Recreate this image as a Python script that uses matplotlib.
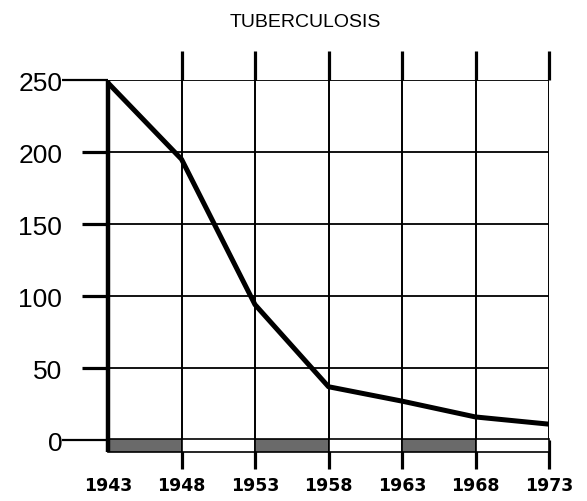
import matplotlib.pyplot as plt

# values (deaths per 100,000)
years = [1943, 1948, 1953, 1958, 1963, 1968, 1973]
rates = [248, 195, 94, 37, 27, 16, 11]
y_ticks = [0, 50, 100, 150, 200, 250]
title = "TUBERCULOSIS"

fig = plt.figure(figsize=(5.87, 5.02), dpi=100)
ax = fig.add_axes([0.184, 0.1215, 0.7513, 0.7171])
ax.set_xlim(years[0], years[-1])
ax.set_ylim(0, 250)
for s in ax.spines.values():
    s.set_visible(False)

# grid
ax.hlines(y_ticks, years[0], years[-1], color='black', lw=1.3, zorder=1)
ax.vlines(years[1:], -8, 250, color='black', lw=1.4, zorder=1)
ax.vlines(years[0], -8, 250, color='black', lw=3.2, zorder=3, clip_on=False)

# striped strip along the base
band_cols = ['#6a6a6a' if i % 2 == 0 else 'white' for i in range(len(years) - 1)]
ax.bar(years[:-1], 9, width=5, bottom=-8, align='edge', color=band_cols,
       edgecolor='black', lw=1.2, zorder=2, clip_on=False)

# the curve
ax.plot(years, rates, color='black', lw=3.6, solid_capstyle='round', zorder=4)

# ticks
ax.set_xticks(years)
ax.set_xticklabels([str(y) for y in years], fontsize=12.5, fontweight='bold')
ax.tick_params(axis='x', top=True, bottom=True, length=21, width=2.3, pad=5)
xt = ax.xaxis.get_major_ticks()
xt[0].tick1line.set_visible(False)
xt[0].tick2line.set_visible(False)

ax.set_yticks(y_ticks)
ax.set_yticklabels([str(v) for v in y_ticks], fontsize=19, family='Liberation Sans')
ax.tick_params(axis='y', length=19, width=2.3, pad=14)
for t, v in zip(ax.yaxis.get_major_ticks(), y_ticks):
    if v in (0, 250):
        t.tick1line.set_markersize(33)
        t.tick1line.set_markeredgewidth(1.6)

fig.text(0.52, 0.955, title, ha='center', va='center', fontsize=14,
         family='Liberation Sans')

fig.savefig('out.png', dpi=100)
